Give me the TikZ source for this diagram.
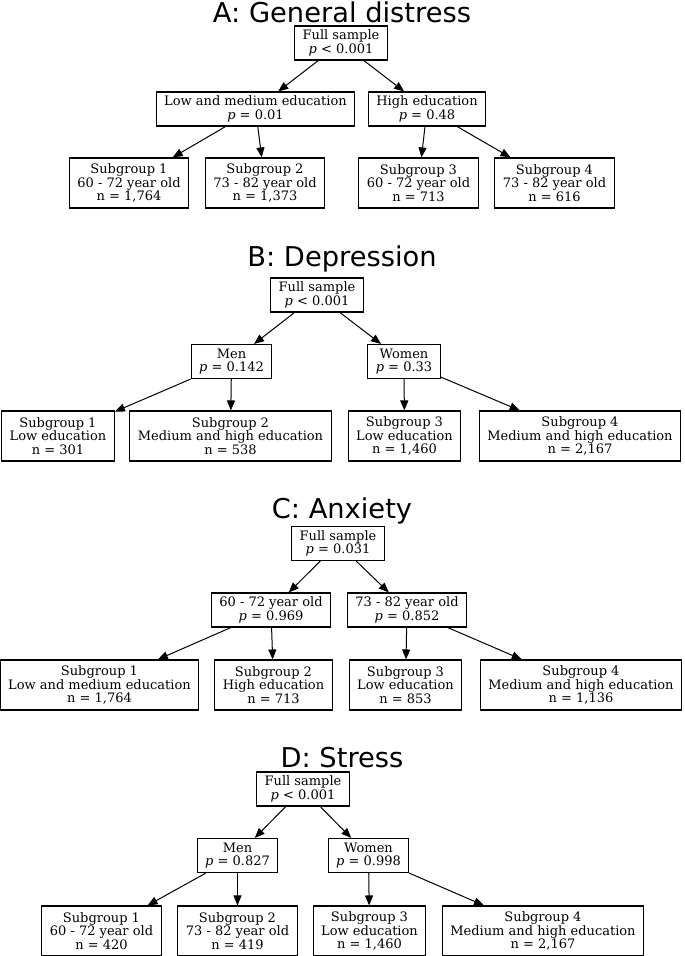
\documentclass[tikz,border=0pt]{standalone}
\usepackage{fontspec}
\setmainfont{DejaVu Serif}
\newfontfamily\titlefont{DejaVu Sans}
\usepackage{tikz}
\usetikzlibrary{arrows.meta}

\begin{document}
\begin{tikzpicture}[x=1pt, y=-1pt, line width=1.1pt,
    main/.style = {draw, rectangle, align=center, inner xsep=8pt, inner ysep=2pt,
        minimum height=34pt, font=\fontsize{13}{13.5}\selectfont},
    leaf/.style = {main, minimum height=50pt},
    title/.style = {font=\titlefont\fontsize{27.3}{30}\selectfont},
    edge/.style = {-{Triangle[length=10pt, width=8pt]}, line width=1pt}]

    \useasboundingbox (0, 0) rectangle (685, 956);

    % A: General distress
    \node [title] (ta) at (342, 12) {A: General distress};
    \node [main] (a0) at (341, 43) {Full sample\\\textit{p} < 0.001};
    \node [main] (a1) at (255.5, 109) {Low and medium education\\\textit{p} = 0.01};
    \node [main] (a2) at (427, 109) {High education\\\textit{p} = 0.48};
    \node [leaf] (a3) at (129, 183) {Subgroup 1\\60 - 72 year old\\n = 1,764};
    \node [leaf] (a4) at (265, 183) {Subgroup 2\\73 - 82 year old\\n = 1,373};
    \node [leaf] (a5) at (418.5, 183) {Subgroup 3\\60 - 72 year old\\n = 713};
    \node [leaf] (a6) at (554.5, 183) {Subgroup 4\\73 - 82 year old\\n = 616};

    \draw[edge] (a0) to (a1);
    \draw[edge] (a0) to (a2);
    \draw[edge] (a1) to (a3);
    \draw[edge] (a1) to (a4);
    \draw[edge] (a2) to (a5);
    \draw[edge] (a2) to (a6);

    % B: Depression
    \node [title] (tb) at (342, 259) {B: Depression};
    \node [main] (b0) at (317, 295) {Full sample\\\textit{p} < 0.001};
    \node [main] (b1) at (231.5, 361.5) {Men\\\textit{p} = 0.142};
    \node [main] (b2) at (404, 361.5) {Women\\\textit{p} = 0.33};
    \node [leaf] (b3) at (58, 436) {Subgroup 1\\Low education\\n = 301};
    \node [leaf] (b4) at (230.5, 436) {Subgroup 2\\Medium and high education\\n = 538};
    \node [leaf] (b5) at (404.5, 436) {Subgroup 3\\Low education\\n = 1,460};
    \node [leaf] (b6) at (580, 436) {Subgroup 4\\Medium and high education\\n = 2,167};

    \draw[edge] (b0) to (b1);
    \draw[edge] (b0) to (b2);
    \draw[edge] (b1) to (b3);
    \draw[edge] (b1) to (b4);
    \draw[edge] (b2) to (b5);
    \draw[edge] (b2) to (b6);

    % C: Anxiety
    \node [title] (tc) at (342, 511) {C: Anxiety};
    \node [main] (c0) at (338, 543.5) {Full sample\\\textit{p} = 0.031};
    \node [main] (c1) at (271, 610) {60 - 72 year old\\\textit{p} = 0.969};
    \node [main] (c2) at (407, 610) {73 - 82 year old\\\textit{p} = 0.852};
    \node [leaf] (c3) at (99.5, 685) {Subgroup 1\\Low and medium education\\n = 1,764};
    \node [leaf] (c4) at (273.5, 685) {Subgroup 2\\High education\\n = 713};
    \node [leaf] (c5) at (405.5, 685) {Subgroup 3\\Low education\\n = 853};
    \node [leaf] (c6) at (581, 685) {Subgroup 4\\Medium and high education\\n = 1,136};

    \draw[edge] (c0) to (c1);
    \draw[edge] (c0) to (c2);
    \draw[edge] (c1) to (c3);
    \draw[edge] (c1) to (c4);
    \draw[edge] (c2) to (c5);
    \draw[edge] (c2) to (c6);

    % D: Stress
    \node [title] (td) at (342, 758) {D: Stress};
    \node [main] (d0) at (303, 789) {Full sample\\\textit{p} < 0.001};
    \node [main] (d1) at (237.5, 855.5) {Men\\\textit{p} = 0.827};
    \node [main] (d2) at (368.5, 855.5) {Women\\\textit{p} = 0.998};
    \node [leaf] (d3) at (101.5, 931) {Subgroup 1\\60 - 72 year old\\n = 420};
    \node [leaf] (d4) at (237.5, 931) {Subgroup 2\\73 - 82 year old\\n = 419};
    \node [leaf] (d5) at (369.5, 931) {Subgroup 3\\Low education\\n = 1,460};
    \node [leaf] (d6) at (543, 931) {Subgroup 4\\Medium and high education\\n = 2,167};

    \draw[edge] (d0) to (d1);
    \draw[edge] (d0) to (d2);
    \draw[edge] (d1) to (d3);
    \draw[edge] (d1) to (d4);
    \draw[edge] (d2) to (d5);
    \draw[edge] (d2) to (d6);

\end{tikzpicture}
\end{document}
